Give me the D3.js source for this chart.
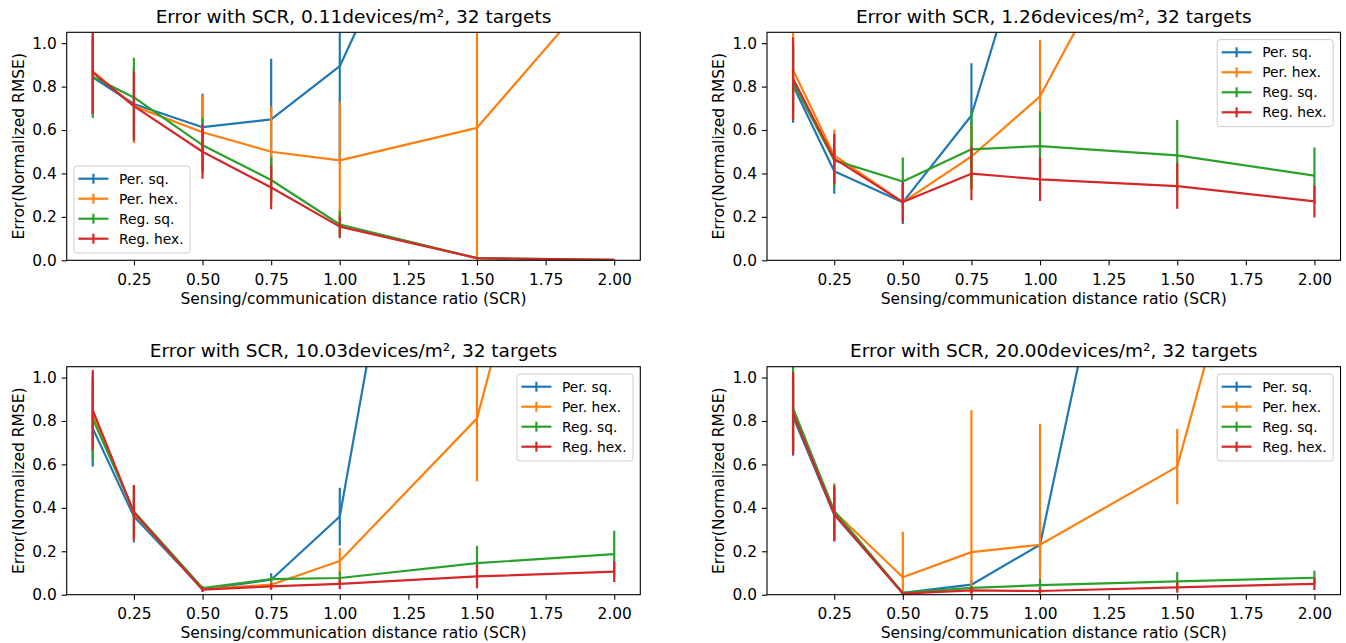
<!DOCTYPE html>
<html lang="en">
<head>
<meta charset="utf-8">
<title>Error with SCR</title>
<script src="https://d3js.org/d3.v7.min.js"></script>
<style>
body { margin: 0; background: #fff; }
text { font-family: "DejaVu Sans", sans-serif; fill: #000; }
</style>
</head>
<body>
<div id="chart"></div>
<script>
// sensing/communication ratios on the x axis
var scr = [0.1, 0.25, 0.5, 0.75, 1.0, 1.5, 2.0];
var xTicks = [0.25, 0.5, 0.75, 1.0, 1.25, 1.5, 1.75, 2.0];
var yTicks = [0, 0.2, 0.4, 0.6, 0.8, 1.0];
var seriesNames = ["Per. sq.", "Per. hex.", "Reg. sq.", "Reg. hex."];
var colors = ["#1f77b4", "#ff7f0e", "#2ca02c", "#d62728"];
var titles = [
    "Error with SCR, 0.11devices/m\u00b2, 32 targets",
    "Error with SCR, 1.26devices/m\u00b2, 32 targets",
    "Error with SCR, 10.03devices/m\u00b2, 32 targets",
    "Error with SCR, 20.00devices/m\u00b2, 32 targets"
];

// mean error, one row per series (Per. sq., Per. hex., Reg. sq., Reg. hex.)
var mean011 = [
    [0.843, 0.72, 0.613, 0.649, 0.894, 2.26, 2.8],
    [0.87, 0.71, 0.59, 0.50, 0.46, 0.61, 1.34],
    [0.845, 0.75, 0.53, 0.37, 0.165, 0.01, 0.002],
    [0.865, 0.71, 0.50, 0.335, 0.155, 0.01, 0.002]
];
var err011 = [
    [0.17, 0.17, 0.154, 0.279, 0.45, 0.6, 0.6],
    [0.2, 0.17, 0.17, 0.209, 0.268, 0.6, 0.2],
    [0.19, 0.183, 0.126, 0.105, 0.064, 0.005, 0.002],
    [0.19, 0.16, 0.124, 0.1, 0.05, 0.005, 0.002]
];
var mean126 = [
    [0.805, 0.41, 0.267, 0.667, 1.71, 2.5, 2.8],
    [0.877, 0.483, 0.268, 0.478, 0.755, 1.93, 2.5],
    [0.82, 0.46, 0.363, 0.511, 0.526, 0.483, 0.39],
    [0.836, 0.468, 0.268, 0.399, 0.373, 0.342, 0.271]
];
var err126 = [
    [0.172, 0.103, 0.1, 0.24, 0.5, 0.5, 0.5],
    [0.18, 0.118, 0.08, 0.15, 0.26, 0.5, 0.5],
    [0.176, 0.12, 0.11, 0.18, 0.16, 0.163, 0.13],
    [0.19, 0.115, 0.092, 0.123, 0.1, 0.105, 0.074]
];
var mean1003 = [
    [0.766, 0.36, 0.026, 0.069, 0.36, 3.9, 4.5],
    [0.835, 0.375, 0.026, 0.046, 0.155, 0.812, 3.2],
    [0.81, 0.383, 0.031, 0.072, 0.077, 0.145, 0.187],
    [0.85, 0.378, 0.023, 0.038, 0.05, 0.084, 0.106]
];
var err1003 = [
    [0.176, 0.12, 0.01, 0.03, 0.133, 0.5, 0.5],
    [0.19, 0.128, 0.01, 0.015, 0.06, 0.29, 0.5],
    [0.19, 0.12, 0.01, 0.015, 0.03, 0.08, 0.107],
    [0.185, 0.127, 0.01, 0.015, 0.025, 0.054, 0.047]
];
var mean2000 = [
    [0.82, 0.368, 0.008, 0.046, 0.23, 3.2, 3.8],
    [0.84, 0.383, 0.08, 0.196, 0.23, 0.59, 2.9],
    [0.858, 0.386, 0.008, 0.031, 0.044, 0.061, 0.078],
    [0.835, 0.372, 0.005, 0.02, 0.017, 0.034, 0.05]
];
var err2000 = [
    [0.18, 0.12, 0.005, 0.02, 0.1, 0.5, 0.5],
    [0.18, 0.13, 0.21, 0.654, 0.556, 0.173, 0.5],
    [0.2, 0.12, 0.005, 0.01, 0.028, 0.043, 0.032],
    [0.19, 0.127, 0.005, 0.015, 0.012, 0.025, 0.028]
];

var width = 1346, height = 643;
var LW = 2.2;

var svg = d3.select("#chart").append("svg")
    .attr("width", width)
    .attr("height", height);
svg.append("rect").attr("width", width).attr("height", height).attr("fill", "#fff");

// axes boxes: left, right, top, bottom
var boxes = [
    {l: 66.7, r: 640.3, t: 32.3, b: 260.3, legend: "ll"},
    {l: 767, r: 1340.5, t: 32.3, b: 260.3, legend: "ur"},
    {l: 66.7, r: 640.3, t: 366.7, b: 594.7, legend: "ur"},
    {l: 767, r: 1340.5, t: 366.7, b: 594.7, legend: "ur"}
];
var means = [mean011, mean126, mean1003, mean2000];
var errs = [err011, err126, err1003, err2000];

boxes.forEach(function(box, i) {
    drawPanel(box, titles[i], means[i], errs[i], i);
});

function drawPanel(box, title, mean, err, idx) {
    var x = d3.scaleLinear().domain([0.005, 2.095]).range([box.l, box.r]);
    var y = d3.scaleLinear().domain([0, 1.05]).range([box.b, box.t]);
    var g = svg.append("g");

    var clipId = "clip" + idx;
    g.append("clipPath").attr("id", clipId)
        .append("rect")
        .attr("x", box.l).attr("y", box.t)
        .attr("width", box.r - box.l).attr("height", box.b - box.t);

    var plot = g.append("g").attr("clip-path", "url(#" + clipId + ")");
    var line = d3.line().x(function(d) { return x(d.x); }).y(function(d) { return y(d.m); });

    mean.forEach(function(vals, s) {
        var pts = scr.map(function(v, k) { return {x: v, m: vals[k], e: err[s][k]}; });
        plot.append("g").selectAll("line").data(pts).join("line")
            .attr("x1", function(d) { return x(d.x); })
            .attr("x2", function(d) { return x(d.x); })
            .attr("y1", function(d) { return y(d.m - d.e); })
            .attr("y2", function(d) { return y(d.m + d.e); })
            .attr("stroke", colors[s])
            .attr("stroke-width", LW);
        plot.append("path").datum(pts)
            .attr("d", line)
            .attr("fill", "none")
            .attr("stroke", colors[s])
            .attr("stroke-width", LW)
            .attr("stroke-linejoin", "round");
    });

    // axes
    var xAxis = d3.axisBottom(x).tickValues(xTicks).tickFormat(d3.format(".2f"))
        .tickSizeOuter(0).tickSize(5).tickPadding(5);
    var yAxis = d3.axisLeft(y).tickValues(yTicks).tickFormat(d3.format(".1f"))
        .tickSizeOuter(0).tickSize(5).tickPadding(5);

    var gx = g.append("g").attr("transform", "translate(0," + box.b + ")").call(xAxis);
    var gy = g.append("g").attr("transform", "translate(" + box.l + ",0)").call(yAxis);
    [gx, gy].forEach(function(a) {
        a.select(".domain").remove();
        a.selectAll(".tick line").attr("stroke", "#000").attr("stroke-width", 1.1);
        a.selectAll(".tick text").attr("font-size", 15.4).attr("font-family", "DejaVu Sans").attr("fill", "#000");
    });
    gx.selectAll(".tick text").attr("dy", "0.93em");

    g.append("rect")
        .attr("x", box.l).attr("y", box.t)
        .attr("width", box.r - box.l).attr("height", box.b - box.t)
        .attr("fill", "none").attr("stroke", "#000").attr("stroke-width", 1.1);

    g.append("text")
        .attr("x", (box.l + box.r) / 2).attr("y", box.t - 9.5)
        .attr("text-anchor", "middle").attr("font-size", 18.5)
        .text(title);

    g.append("text")
        .attr("x", (box.l + box.r) / 2).attr("y", box.b + 43.5)
        .attr("text-anchor", "middle").attr("font-size", 15.5)
        .text("Sensing/communication distance ratio (SCR)");

    g.append("text")
        .attr("transform", "translate(" + (box.l - 43) + "," + ((box.t + box.b) / 2) + ") rotate(-90)")
        .attr("text-anchor", "middle").attr("font-size", 15.5)
        .text("Error(Normalized RMSE)");

    // legend
    var lw = 116, lh = 87;
    var lx = box.legend === "ll" ? box.l + 7.3 : box.r - 7.3 - lw;
    var ly = box.legend === "ll" ? box.b - 7.3 - lh : box.t + 7.3;
    var leg = g.append("g").attr("transform", "translate(" + lx + "," + ly + ")");
    leg.append("rect")
        .attr("width", lw).attr("height", lh).attr("rx", 3)
        .attr("fill", "#fff").attr("fill-opacity", 0.8)
        .attr("stroke", "#cccccc").attr("stroke-width", 1);
    var rows = leg.selectAll("g.row").data(seriesNames).join("g")
        .attr("class", "row")
        .attr("transform", function(d, k) { return "translate(0," + (12.7 + k * 20) + ")"; });
    rows.append("line")
        .attr("x1", 4.4).attr("x2", 34.4).attr("y1", 0).attr("y2", 0)
        .attr("stroke", function(d, k) { return colors[k]; }).attr("stroke-width", LW);
    rows.append("line")
        .attr("x1", 19.4).attr("x2", 19.4).attr("y1", -5).attr("y2", 5)
        .attr("stroke", function(d, k) { return colors[k]; }).attr("stroke-width", LW);
    rows.append("text")
        .attr("x", 45).attr("y", 0).attr("dy", "0.35em")
        .attr("font-size", 13.8)
        .text(function(d) { return d; });
}
</script>
</body>
</html>
